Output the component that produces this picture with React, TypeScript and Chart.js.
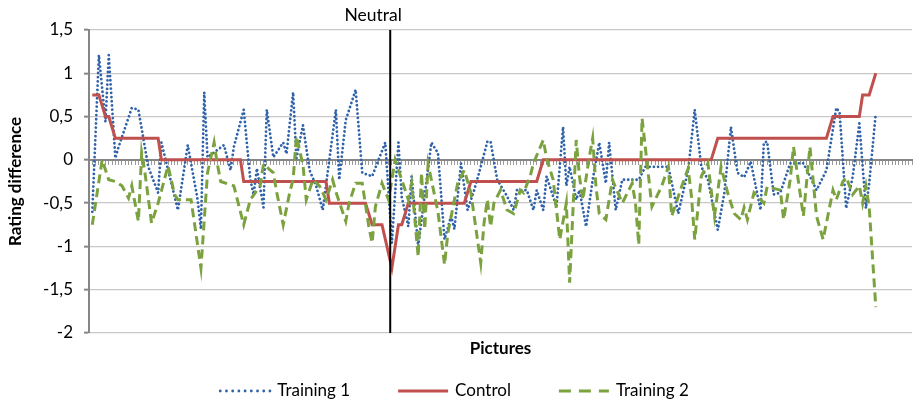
import { useEffect, useRef } from 'react';
import { Chart, registerables } from 'chart.js';

Chart.register(...registerables);

const FONT = 'Lato, "Open Sans", sans-serif';

// ---- data ----
const seriesNames = ['Training 1', 'Control', 'Training 2'];
const pictureCount = 250;
const neutralPicture = 91.5;
const yMin = -2;
const yMax = 1.5;
const yStep = 0.5;

const training1Pictures = [1, 3, 5, 6, 8, 9, 13, 15, 18, 21, 22, 27, 30, 33, 34, 35, 36, 41, 43, 44, 47, 49, 50, 51, 53, 54, 56, 59, 60, 62, 63, 65, 67, 69, 71, 75, 76, 78, 81, 83, 86, 90, 92, 94, 95, 97, 98, 100, 104, 106, 108, 110, 111, 113, 115, 117, 119, 121, 122, 124, 127, 129, 130, 133, 135, 136, 138, 139, 142, 144, 145, 146, 148, 149, 151, 153, 155, 157, 158, 160, 162, 167, 169, 172, 176, 179, 182, 184, 186, 188, 191, 193, 195, 197, 199, 201, 204, 205, 206, 208, 210, 213, 217, 219, 221, 224, 227, 228, 230, 232, 234, 236, 237, 239];
const training1Values = [-0.6, 1.21, 0.44, 1.21, 0.02, 0.15, 0.6, 0.58, -0.08, -0.38, 0.2, -0.58, 0.17, -0.46, -0.8, 0.78, 0.03, 0.17, -0.12, 0.15, 0.58, -0.23, -0.4, -0.1, -0.55, 0.58, 0.03, 0.2, 0.07, 0.78, 0.02, 0.4, -0.12, -0.3, -0.58, 0.58, -0.23, 0.46, 0.81, -0.15, -0.19, 0.2, -0.96, 0.2, -0.43, -0.77, -0.19, -1.0, 0.2, 0.08, -0.92, -0.65, -0.8, -0.04, -0.58, -0.35, -0.08, 0.21, 0.21, -0.23, -0.42, -0.58, -0.35, -0.35, -0.58, -0.35, -0.58, -0.19, -0.54, 0.38, -0.3, -0.08, -0.46, -0.35, -0.77, -0.23, 0.2, -0.27, 0.2, -0.58, -0.23, -0.23, -0.08, -0.08, -0.08, -0.62, -0.12, 0.58, -0.08, -0.23, -0.81, -0.38, 0.38, -0.15, -0.2, -0.02, -0.58, 0.2, 0.21, -0.4, -0.38, -0.04, -0.04, -0.19, -0.35, -0.12, 0.6, 0.55, -0.56, -0.19, 0.42, -0.56, -0.27, 0.54];

const controlPictures = [1, 3, 5, 6, 8, 21, 22, 46, 47, 72, 73, 84, 86, 89, 92, 94, 95, 97, 114, 116, 136, 138, 189, 191, 224, 226, 234, 235, 237, 239];
const controlValues = [0.75, 0.75, 0.5, 0.5, 0.25, 0.25, 0, 0, -0.25, -0.25, -0.5, -0.5, -0.75, -0.75, -1.25, -0.75, -0.75, -0.5, -0.5, -0.25, -0.25, 0, 0, 0.25, 0.25, 0.5, 0.5, 0.75, 0.75, 1];

const training2Pictures = [1, 4, 6, 8, 10, 12, 13, 15, 16, 17, 19, 21, 24, 26, 27, 31, 34, 36, 38, 39, 40, 44, 45, 47, 49, 52, 53, 56, 57, 59, 61, 62, 63, 65, 66, 68, 70, 72, 74, 75, 78, 79, 81, 83, 85, 86, 87, 89, 91, 93, 95, 97, 98, 100, 101, 102, 103, 104, 106, 108, 109, 111, 112, 114, 116, 119, 120, 121, 122, 123, 125, 127, 129, 131, 132, 134, 135, 138, 139, 141, 143, 145, 146, 148, 149, 150, 152, 153, 154, 155, 157, 159, 162, 165, 166, 167, 168, 170, 171, 174, 176, 177, 180, 182, 183, 184, 186, 188, 189, 190, 192, 194, 196, 198, 199, 200, 202, 205, 206, 210, 211, 213, 214, 217, 219, 221, 223, 226, 227, 229, 230, 232, 234, 235, 236, 237, 239];
const training2Values = [-0.75, 0, -0.23, -0.25, -0.3, -0.44, -0.3, -0.71, 0.08, -0.15, -0.73, -0.5, -0.07, -0.4, -0.46, -0.46, -1.25, -0.15, 0.2, -0.05, -0.25, -0.3, -0.45, -0.75, -0.46, -0.3, -0.05, -0.15, -0.37, -0.75, -0.37, -0.23, 0.27, -0.06, -0.46, -0.23, -0.3, -0.46, -0.23, -0.37, -0.71, -0.5, -0.27, -0.27, -0.77, -0.96, -0.54, -0.27, -0.46, 0, -0.23, -0.46, -0.27, -1.12, -0.15, -0.8, -0.05, -0.23, -0.6, -1.21, -0.85, -0.46, -0.27, -0.12, -0.38, -1.19, -0.73, -0.46, -0.77, -0.5, -0.35, -0.58, -0.62, -0.35, -0.38, -0.19, -0.04, 0.23, 0.02, -0.23, -0.92, -0.5, -1.42, 0.23, -0.2, -0.46, 0.04, 0.25, -0.31, -0.62, -0.69, -0.23, -0.5, -0.27, -0.5, -0.98, 0.48, -0.2, -0.54, -0.3, -0.08, -0.65, -0.31, -0.1, -0.42, -0.92, -0.19, -0.04, -0.35, -0.65, -0.08, -0.38, -0.62, -0.69, -0.55, -0.69, -0.38, -0.5, -0.31, -0.35, -0.69, -0.23, 0.15, -0.65, 0.15, -0.65, -0.92, -0.35, -0.46, -0.25, -0.2, -0.4, -0.3, -0.5, -0.3, -0.55, -1.7];

const BLUE = '#2F62A8';
const RED = '#C0504D';
const GREEN = '#7BA23F';
const AXIS_GRAY = '#868686';
const GRID_GRAY = '#C8C8C8';

const pairs = (xs: number[], ys: number[]) => xs.map((x, i) => ({ x, y: ys[i] }));

const neutralPlugin = {
  id: 'neutralLine',
  afterDatasetsDraw(chart: any) {
    const { ctx, chartArea, scales } = chart;
    const x = scales.x.getPixelForValue(neutralPicture);
    ctx.save();
    ctx.strokeStyle = '#000';
    ctx.lineWidth = 2;
    ctx.beginPath();
    ctx.moveTo(x, chartArea.top);
    ctx.lineTo(x, chartArea.bottom);
    ctx.stroke();
    ctx.fillStyle = '#000';
    ctx.font = `17.5px ${FONT}`;
    ctx.textAlign = 'center';
    ctx.textBaseline = 'middle';
    ctx.fillText('Neutral', x - 17, chartArea.top - 15);
    ctx.restore();
  },
};

const legendPlugin = {
  id: 'lineLegend',
  afterDraw(chart: any) {
    const { ctx } = chart;
    const sampleW = 50;
    const gap = 7;
    const spacing = 48;
    ctx.save();
    ctx.font = `17px ${FONT}`;
    ctx.textBaseline = 'middle';
    ctx.textAlign = 'left';
    const ds = chart.data.datasets;
    const widths = ds.map((d: any) => sampleW + gap + ctx.measureText(d.label).width);
    const total = widths.reduce((a: number, b: number) => a + b, 0) + spacing * (ds.length - 1);
    let x = (chart.width - total) / 2 - 3;
    const y = 391;
    ds.forEach((d: any, i: number) => {
      ctx.save();
      ctx.strokeStyle = d.borderColor;
      ctx.lineWidth = d.borderWidth;
      ctx.lineCap = d.borderCapStyle || 'butt';
      ctx.setLineDash(d.legendDash || d.borderDash || []);
      ctx.beginPath();
      ctx.moveTo(x, y);
      ctx.lineTo(x + sampleW, y);
      ctx.stroke();
      ctx.restore();
      ctx.fillStyle = '#000';
      ctx.fillText(d.label, x + sampleW + gap, y);
      x += widths[i] + spacing;
    });
    ctx.restore();
  },
};

export default function App() {
  const canvasRef = useRef<HTMLCanvasElement | null>(null);

  useEffect(() => {
    const canvas = canvasRef.current;
    if (!canvas) return;
    const chart = new Chart(canvas, {
      type: 'line',
      data: {
        datasets: [
          {
            label: seriesNames[0],
            data: pairs(training1Pictures, training1Values),
            borderColor: BLUE,
            borderWidth: 2.8,
            borderDash: [0.01, 4.2],
            borderCapStyle: 'round',
            legendDash: [0.01, 6.2],
            pointRadius: 0,
            tension: 0,
            order: 2,
          } as any,
          {
            label: seriesNames[1],
            data: pairs(controlPictures, controlValues),
            borderColor: RED,
            borderWidth: 3,
            pointRadius: 0,
            tension: 0,
            order: 1,
          },
          {
            label: seriesNames[2],
            data: pairs(training2Pictures, training2Values),
            borderColor: GREEN,
            borderWidth: 3,
            borderDash: [9, 5],
            legendDash: [12, 8],
            pointRadius: 0,
            tension: 0,
            order: 0,
          } as any,
        ],
      },
      options: {
        animation: false,
        responsive: false,
        devicePixelRatio: 1,
        layout: { padding: { left: 0, top: 30, right: 3, bottom: 0 } },
        plugins: {
          legend: { display: false },
          tooltip: { enabled: false },
        },
        scales: {
          x: {
            type: 'linear',
            position: 'bottom',
            min: 0,
            max: pictureCount,
            ticks: { display: false },
            grid: { display: false },
            border: { display: false },
            title: {
              display: true,
              text: 'Pictures',
              color: '#000',
              font: { family: FONT, size: 17, weight: 'bold' },
              padding: { top: 0, bottom: 46 },
            },
            afterFit: (s: any) => {
              s.height = 72;
            },
          },
          xZero: {
            type: 'linear',
            position: { y: 0 },
            min: 0,
            max: pictureCount,
            ticks: { display: false, stepSize: 1 },
            grid: {
              drawOnChartArea: false,
              drawTicks: true,
              tickLength: 4,
              tickColor: '#9A9A9A',
              tickWidth: 1,
            },
            border: { display: true, color: AXIS_GRAY, width: 2 },
          } as any,
          y: {
            type: 'linear',
            min: yMin,
            max: yMax,
            ticks: {
              stepSize: yStep,
              color: '#000',
              padding: 11,
              font: { family: FONT, size: 17 },
              callback: (v: any) => String(v).replace('.', ','),
            },
            grid: {
              color: GRID_GRAY,
              lineWidth: 1.3,
              tickLength: 5,
              tickColor: AXIS_GRAY,
              tickWidth: 2,
            },
            border: { display: true, color: AXIS_GRAY, width: 2 },
            title: {
              display: true,
              text: 'Rating difference',
              color: '#000',
              font: { family: FONT, size: 17, weight: 'bold' },
              padding: { top: 5, bottom: 0 },
            },
            afterFit: (s: any) => {
              s.width = 89;
            },
          },
        },
      },
      plugins: [neutralPlugin, legendPlugin],
    });
    return () => chart.destroy();
  }, []);

  return (
    <div style={{ position: 'fixed', left: 0, top: 0, width: 915, height: 405, background: '#fff' }}>
      <canvas ref={canvasRef} width={915} height={405} style={{ display: 'block' }} />
    </div>
  );
}
